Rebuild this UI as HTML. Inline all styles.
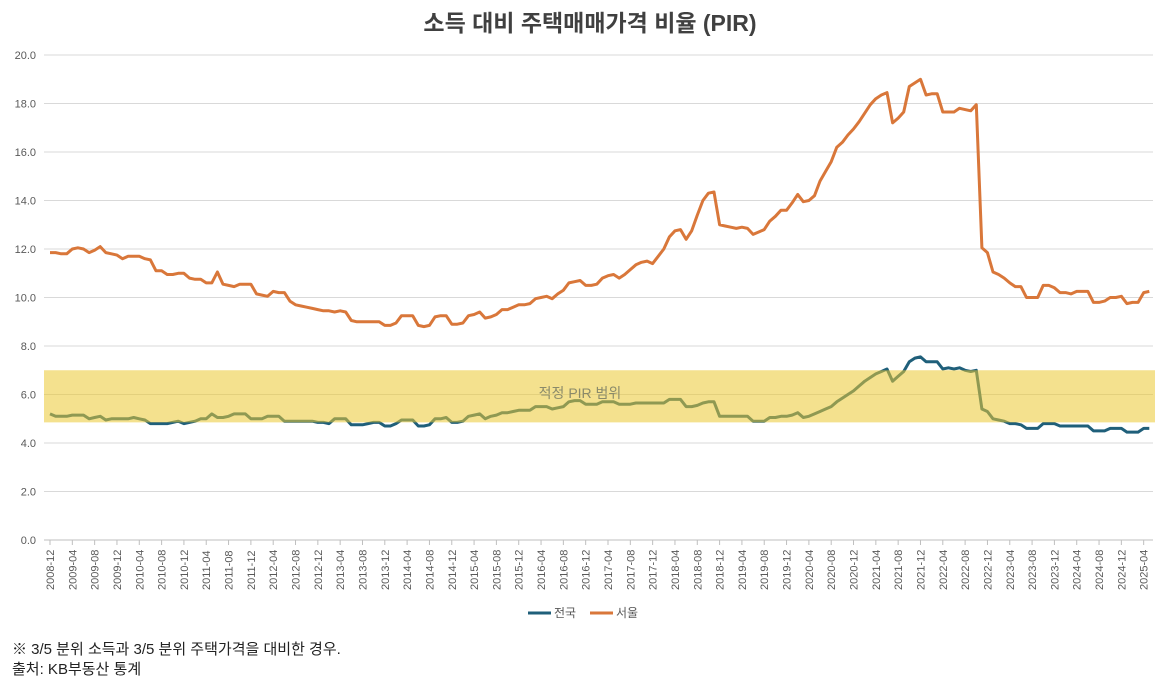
<!DOCTYPE html>
<html><head><meta charset="utf-8"><style>
body{margin:0;background:#fff;font-family:"Liberation Sans","Noto Sans CJK KR",sans-serif;}
svg text{font-family:"Liberation Sans","Noto Sans CJK KR",sans-serif;}
</style></head><body>
<svg id="chart" width="1168" height="678" xmlns="http://www.w3.org/2000/svg">
<text x="590" y="31" text-anchor="middle" font-size="23" font-weight="bold" fill="#404040">소득 대비 주택매매가격 비율 (PIR)</text>
<g id="grid"></g><g id="lines"></g><g id="band"></g><g id="xlabels"></g>
<g>
<line x1="528" y1="613" x2="551" y2="613" stroke="#1f5f7a" stroke-width="3"/>
<text x="554" y="617" font-size="12" fill="#595959">전국</text>
<line x1="590" y1="613" x2="613" y2="613" stroke="#d9773a" stroke-width="3"/>
<text x="616" y="617" font-size="12" fill="#595959">서울</text>
</g>
<text x="12" y="654" font-size="15" fill="#222">※ 3/5 분위 소득과 3/5 분위 주택가격을 대비한 경우.</text>
<text x="12" y="674" font-size="15" fill="#222">출처: KB부동산 통계</text>
</svg>
<script>
const yTicks=[0,2,4,6,8,10,12,14,16,18,20];
const bandRange=[4.85,7.0];
const seoul=[11.85,11.85,11.8,11.8,12.0,12.05,12.0,11.85,11.95,12.1,11.85,11.8,11.75,11.6,11.7,11.7,11.7,11.6,11.55,11.1,11.1,10.95,10.95,11.0,11.0,10.8,10.75,10.75,10.6,10.6,11.05,10.55,10.5,10.45,10.55,10.55,10.55,10.15,10.1,10.05,10.25,10.2,10.2,9.85,9.7,9.65,9.6,9.55,9.5,9.45,9.45,9.4,9.45,9.4,9.05,9.0,9.0,9.0,9.0,9.0,8.85,8.85,8.95,9.25,9.25,9.25,8.85,8.8,8.85,9.2,9.25,9.25,8.9,8.9,8.95,9.25,9.3,9.4,9.15,9.2,9.3,9.5,9.5,9.6,9.7,9.7,9.75,9.95,10.0,10.05,9.95,10.15,10.3,10.6,10.65,10.7,10.5,10.5,10.55,10.8,10.9,10.95,10.8,10.95,11.15,11.35,11.45,11.5,11.4,11.7,12.0,12.5,12.75,12.8,12.4,12.75,13.4,14.0,14.3,14.35,13.0,12.95,12.9,12.85,12.9,12.85,12.6,12.7,12.8,13.15,13.35,13.6,13.6,13.9,14.25,13.95,14.0,14.2,14.8,15.2,15.6,16.2,16.4,16.7,16.95,17.25,17.6,17.95,18.2,18.35,18.45,17.2,17.4,17.65,18.7,18.85,19.0,18.35,18.4,18.4,17.65,17.65,17.65,17.8,17.75,17.7,17.95,12.05,11.85,11.05,10.95,10.8,10.6,10.45,10.45,10.0,10.0,10.0,10.5,10.5,10.4,10.2,10.2,10.15,10.25,10.25,10.25,9.8,9.8,9.85,10.0,10.0,10.05,9.75,9.8,9.8,10.2,10.25];
const national=[5.2,5.1,5.1,5.1,5.15,5.15,5.15,5.0,5.05,5.1,4.95,5.0,5.0,5.0,5.0,5.05,5.0,4.95,4.8,4.8,4.8,4.8,4.85,4.9,4.8,4.85,4.9,5.0,5.0,5.2,5.05,5.05,5.1,5.2,5.2,5.2,5.0,5.0,5.0,5.1,5.1,5.1,4.9,4.9,4.9,4.9,4.9,4.9,4.85,4.85,4.8,5.0,5.0,5.0,4.75,4.75,4.75,4.8,4.85,4.85,4.7,4.7,4.8,4.95,4.95,4.95,4.7,4.7,4.75,5.0,5.0,5.05,4.85,4.85,4.9,5.1,5.15,5.2,5.0,5.1,5.15,5.25,5.25,5.3,5.35,5.35,5.35,5.5,5.5,5.5,5.4,5.45,5.5,5.7,5.75,5.75,5.6,5.6,5.6,5.7,5.7,5.7,5.6,5.6,5.6,5.65,5.65,5.65,5.65,5.65,5.65,5.8,5.8,5.8,5.5,5.5,5.55,5.65,5.7,5.7,5.1,5.1,5.1,5.1,5.1,5.1,4.9,4.9,4.9,5.05,5.05,5.1,5.1,5.15,5.25,5.05,5.1,5.2,5.3,5.4,5.5,5.7,5.85,6.0,6.15,6.35,6.55,6.7,6.85,6.95,7.05,6.55,6.75,6.95,7.35,7.5,7.55,7.35,7.35,7.35,7.05,7.1,7.05,7.1,7.0,6.95,7.0,5.4,5.3,5.0,4.95,4.9,4.8,4.8,4.75,4.6,4.6,4.6,4.8,4.8,4.8,4.7,4.7,4.7,4.7,4.7,4.7,4.5,4.5,4.5,4.6,4.6,4.6,4.45,4.45,4.45,4.6,4.6];
const startYear=2008,startMonth=12,labelStep=4,labelCount=50;
const NS="http://www.w3.org/2000/svg";
const x0=50,dx=5.58,yBase=540,yPer=24.25,xEnd=1153;
const xs=i=>x0+i*dx, ys=v=>yBase-v*yPer;
function mk(t,a,p){const e=document.createElementNS(NS,t);for(const k in a)e.setAttribute(k,a[k]);p.appendChild(e);return e;}
const grid=document.getElementById('grid');
yTicks.forEach(v=>{
 const l=mk('line',{x1:44,x2:xEnd,y1:ys(v),y2:ys(v),stroke:v===0?'#bfbfbf':'#d9d9d9','stroke-width':1},grid);
 
 
 const t=mk('text',{x:36,y:ys(v)+4,'text-anchor':'end','font-size':11,fill:'#595959'},grid);
 t.textContent=v.toFixed(1);
 
 
});
const lines=document.getElementById('lines');
function path(arr,color,name){
 const d=arr.map((v,i)=>(i?'L':'M')+xs(i).toFixed(1)+','+ys(v).toFixed(1)).join(' ');
 const p=mk('path',{d:d,fill:'none',stroke:color,'stroke-width':3,'stroke-linejoin':'round'},lines);
 
 
}
path(national,'#1f5f7a','national-line');
path(seoul,'#d9773a','seoul-line');
const band=document.getElementById('band');
const r=mk('rect',{x:44,y:ys(bandRange[1]),width:xEnd-44+2,height:(bandRange[1]-bandRange[0])*yPer,fill:'rgba(235,200,50,0.55)'},band);


const bt=mk('text',{x:580,y:398,'text-anchor':'middle','font-size':14,fill:'#8a8a6a'},band);
bt.textContent='적정 PIR 범위';


const xl=document.getElementById('xlabels');
for(let k=0;k<labelCount;k++){
 const m=(startMonth-1)+k*labelStep, yr=startYear+Math.floor(m/12), mo=m%12+1;
 const x=xs(k*labelStep);
 mk('line',{x1:x,x2:x,y1:540,y2:545,stroke:'#bfbfbf'},xl);
 const t=mk('text',{x:0,y:0,transform:`translate(${x+4},${590}) rotate(-90)`,'font-size':11,fill:'#595959'},xl);
 t.textContent=yr+'-'+String(mo).padStart(2,'0');
 
 
}
</script>
</body></html>
